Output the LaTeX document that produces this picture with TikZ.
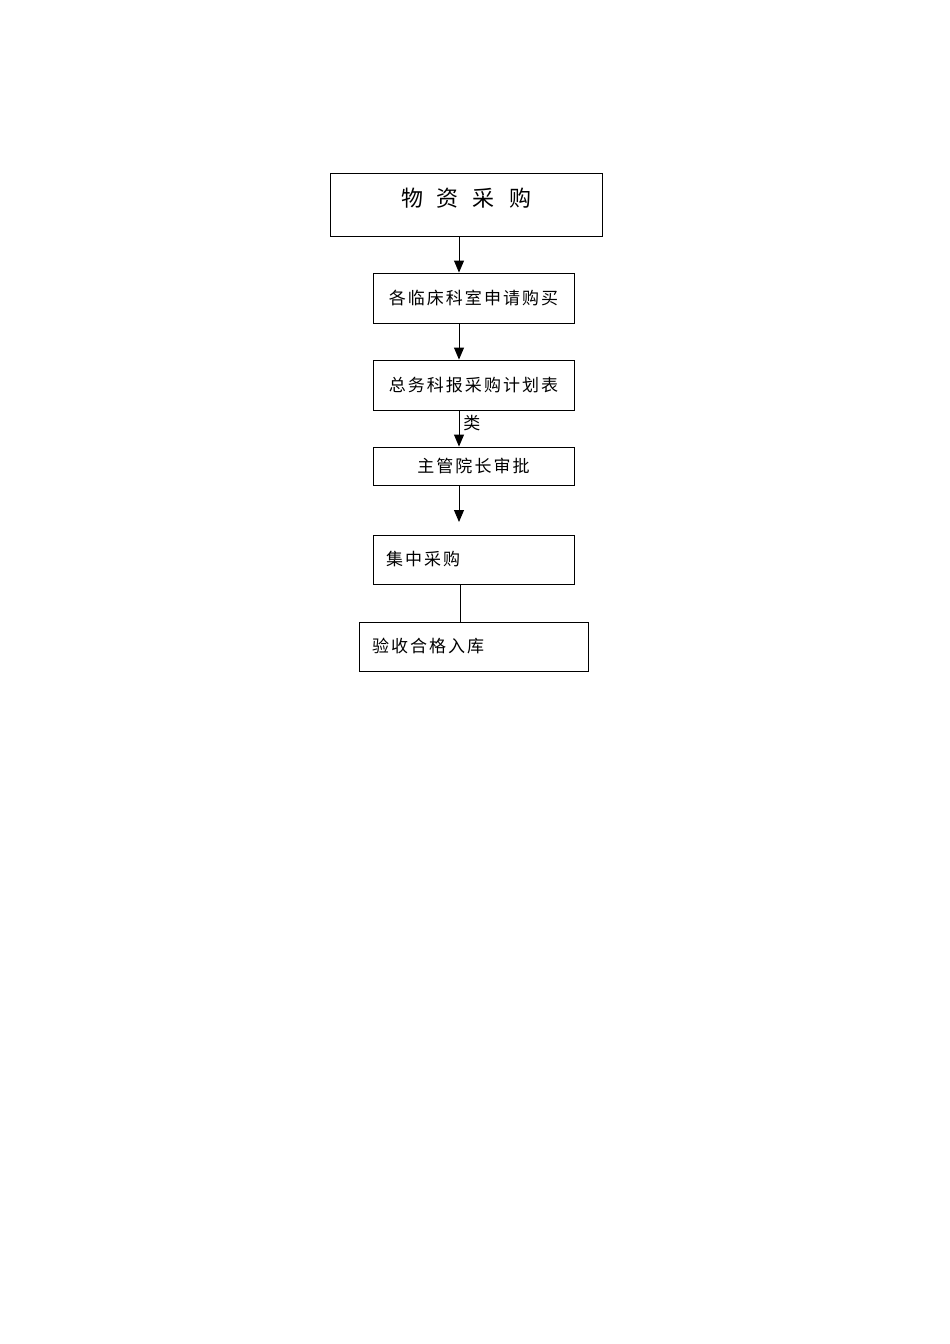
\documentclass[tikz,border=0pt]{standalone}
\usepackage{fontspec}
\usepackage{tikz}
\usetikzlibrary{arrows.meta}
\newfontfamily\cjk[LetterSpace=12]{Noto Sans CJK SC}

\begin{document}
\begin{tikzpicture}[x=1pt,y=-1pt,line width=0.9pt,
    box/.style={draw,rectangle,inner sep=0pt,font=\cjk\fontsize{17}{20}\selectfont},
    flow/.style={-{Triangle[width=10pt,length=12pt]}}]
        \useasboundingbox (0,0) rectangle (950,1344);
        \node[box,minimum width=272,minimum height=63] (buy) at (466,204.5)
            {\raisebox{14pt}{\fontsize{22}{24}\selectfont 物\hspace{14pt}资\hspace{14pt}采\hspace{14pt}购}};
        \node[box,minimum width=201,minimum height=50] (apply) at (473.5,298) {各临床科室申请购买};
        \node[box,minimum width=201,minimum height=50] (plan) at (473.5,385) {总务科报采购计划表};
        \node[box,minimum width=201,minimum height=38] (approval) at (473.5,466) {\raisebox{-3pt}{主管院长审批}};
        \node[box,minimum width=201,minimum height=49,inner xsep=13pt,text width=175pt,align=left] (central) at (473.5,559.5) {集中采购};
        \node[box,minimum width=229,minimum height=49,inner xsep=13pt,text width=203pt,align=left] (accept) at (473.5,646.5) {验收合格入库};
        \coordinate (gap) at (459,522);
        \draw[flow] ([xshift=-7pt]buy.south) -- ([xshift=-7pt]buy.south |- apply.north);
        \draw[flow] ([xshift=-14.5pt]apply.south) -- ([xshift=-14.5pt]plan.north);
        \draw[flow] ([xshift=-14.5pt]plan.south) -- node[right,pos=0.35,inner sep=4pt,font=\cjk\fontsize{17}{20}\selectfont] (kind) {类} ([xshift=-14.5pt]approval.north);
        \draw[flow] ([xshift=-14.5pt]approval.south) -- (gap);
        \draw ([xshift=-13.5pt]central.south) -- ([xshift=-13.5pt]central.south |- accept.north);
    \end{tikzpicture}
\end{document}
